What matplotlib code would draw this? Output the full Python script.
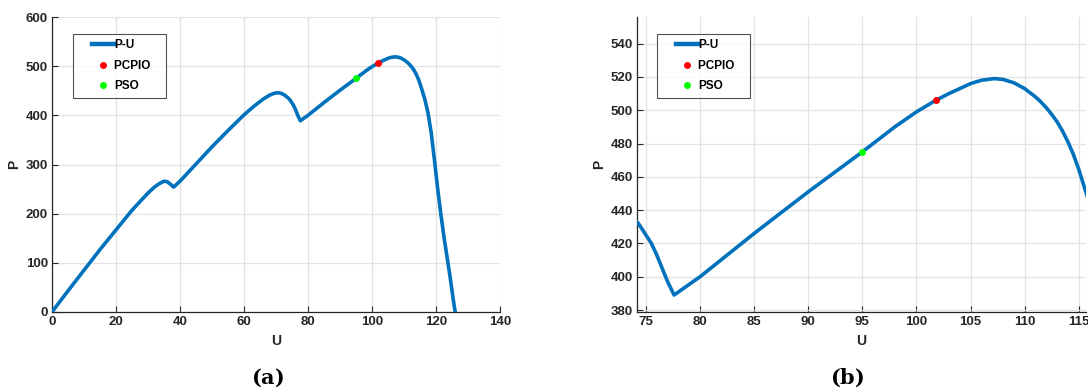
import matplotlib.pyplot as plt
from matplotlib.legend_handler import HandlerLine2D

plt.rcParams["font.family"] = ["Liberation Sans", "DejaVu Sans"]
plt.rcParams["font.weight"] = "bold"
plt.rcParams["mathtext.fontset"] = "dejavuserif"

# P-U curve
U = [0, 5, 10, 15, 20, 25, 28, 30, 32, 33.5, 35, 36, 37, 38, 40, 45, 50, 55, 60,
     63, 66, 68, 69.5, 70.5, 71.5, 72.5, 73.5, 74.3, 75, 75.5, 76, 76.5, 77,
     77.6, 80, 85, 90, 95, 98, 100, 101.8, 103, 104, 105, 106, 107.2, 108,
     109, 110, 111, 111.5, 112, 112.5, 113, 113.5, 114, 114.5, 115, 115.7, 116.5,
     117.5, 118.5, 119.5, 120.5, 121.5, 122.5, 123.5, 124.5, 125.4, 126]
P = [0, 43, 85, 127, 167, 207, 228, 242, 254, 261, 266, 265, 260, 254, 266, 301,
     336, 369, 401, 418, 433, 441, 445, 446, 445, 442, 437, 432, 425, 420, 413,
     405, 397, 389, 400, 426, 451, 475, 490, 499, 506, 510, 513, 516, 518,
     519, 518.5, 516.5, 513, 508, 505, 501.5, 497.5, 493, 487.5, 481, 473.5,
     464.5, 450, 433, 405, 365, 310, 252, 200, 152, 110, 67, 25, 0]

pcpio_u, pcpio_p = [101.8], [506]
pso_u, pso_p = [95], [475]

blue = "#0072BD"
dark = "#262626"


class PadHandler(HandlerLine2D):
    # MATLAB style legend: handle sits in the right part of its box
    def create_artists(self, legend, orig_handle, xdescent, ydescent, width,
                       height, fontsize, trans):
        shift = width * 0.4
        return super().create_artists(legend, orig_handle, xdescent - shift,
                                      ydescent, width - shift, height, fontsize, trans)


fig = plt.figure(figsize=(10.88, 3.92), dpi=100)

axes_specs = [
    ([52 / 1088, 80 / 392, 448 / 1088, 295 / 392], (0, 140), (0, 600),
     range(0, 141, 20), range(0, 601, 100), "a", 268, 73),
    ([637 / 1088, 80 / 392, 449 / 1088, 295 / 392], (74.17, 115.67), (378.8, 556),
     range(75, 116, 5), range(380, 541, 20), "b", 847, 657),
]

for rect, xl, yl, xt, yt, cap, capx, legx in axes_specs:
    ax = fig.add_axes(rect)
    ax.plot(U, P, color=blue, lw=2.6, label="P-U", zorder=3)
    ax.plot(pcpio_u, pcpio_p, "o", color="red", ms=4, label="PCPIO   ", zorder=4)
    ax.plot(pso_u, pso_p, "o", color="#00FF00", ms=4, label="PSO", zorder=4)
    ax.set_xlim(*xl)
    ax.set_ylim(*yl)
    ax.set_xticks(list(xt))
    ax.set_yticks(list(yt))
    ax.grid(True, color="#e3e3e3", lw=0.9)
    ax.set_axisbelow(True)
    for s in ["top", "right"]:
        ax.spines[s].set_visible(False)
    for s in ["left", "bottom"]:
        ax.spines[s].set_color(dark)
        ax.spines[s].set_linewidth(0.9)
    ax.tick_params(direction="in", length=4, width=0.8, colors=dark,
                   labelsize=9.5, pad=3)
    for lab in ax.get_xticklabels() + ax.get_yticklabels():
        lab.set_fontweight("bold")
    ax.set_xlabel("U", fontsize=10, fontweight="bold", color=dark, labelpad=4)
    ax.set_ylabel("P", fontsize=10, fontweight="bold", color=dark, labelpad=3)

    # legend box placed by pixel position of its top-left corner
    bx = (legx - rect[0] * 1088) / (rect[2] * 1088)
    by = 1 - (34 - 17) / 295
    leg = ax.legend(loc="upper left", bbox_to_anchor=(bx, by), fontsize=8.5,
                    frameon=True, fancybox=False, edgecolor=dark,
                    borderpad=0.45, labelspacing=0.72, handlelength=3.0,
                    handletextpad=0.05, borderaxespad=0,
                    handler_map={type(ax.lines[0]): PadHandler()})
    leg.get_frame().set_linewidth(0.8)
    leg.get_lines()[0].set_linewidth(3.2)
    for t in leg.get_texts():
        t.set_fontweight("bold")

    fig.text(capx / 1088, 14 / 392, r"$(\mathbf{%s})$" % cap, ha="center",
             va="center", fontsize=15, color="black")

fig.savefig("out.png", dpi=100)
